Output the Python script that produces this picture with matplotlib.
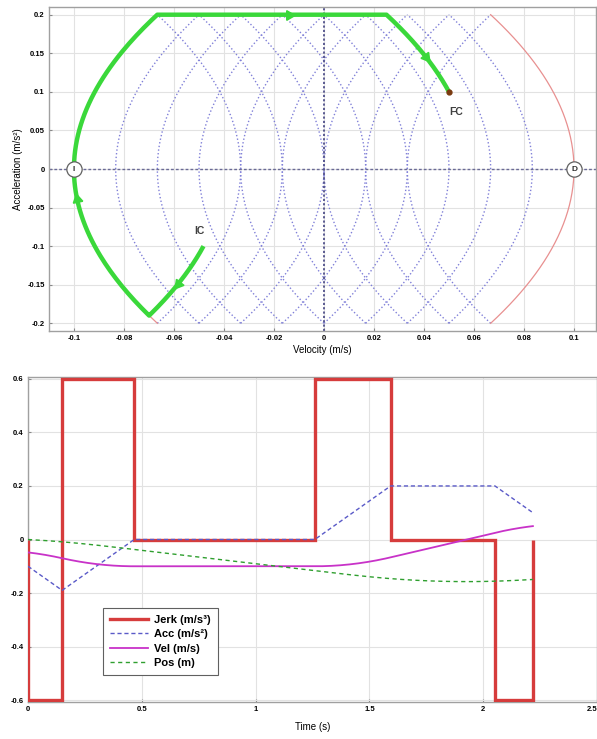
import numpy as np
import matplotlib
matplotlib.use("Agg")
import matplotlib.pyplot as plt
from matplotlib.ticker import FuncFormatter

plt.rcParams['font.family'] = ['Liberation Sans', 'DejaVu Sans']
plt.rcParams['font.weight'] = 'bold'

# Jerk profile (bang-bang), switching instants and initial state
jerk_levels = [-0.6, 0.6, 0.0, 0.6, 0.0, -0.6]
switch_times = [0.0, 0.15, 0.4667, 1.26, 1.5933, 2.0517, 2.2183]
acc0, vel0, pos0 = -0.1, -0.0482, 0.0

# Phase-plane families: vertex velocities of the parabolic arcs (a = 0)
j_max = 0.6
a_max = 0.2
right_arc_vertices = [-2/60, -1/60, 0.0, 1/60, 2/60, 3/60, 4/60, 5/60]
left_arc_vertices = [-5/60, -4/60, -3/60, -2/60, -1/60, 0.0, 1/60, 2/60]
bound_vertices = [-0.1, 0.1]

# Named points of the phase plane
ic_point = (-0.05, -0.1)
fc_point = (0.05, 0.1)
start_point = (-0.1, 0.0)
stop_point = (0.1, 0.0)

# Instants where direction arrows sit on the trajectory
arrow_times = [0.08, 0.40, 1.85, 2.14]


def integrate_profile(levels, edges, a0, v0, p0, n=60):
    """ Integra il jerk a tratti costante: ritorna t, acc, vel, pos """
    t_all, a_all, v_all, p_all = [], [], [], []
    a, v, p = a0, v0, p0
    for j, t_start, t_end in zip(levels, edges[:-1], edges[1:]):
        dt = np.linspace(0, t_end - t_start, n)
        t_all.append(t_start + dt)
        a_all.append(a + j * dt)
        v_all.append(v + a * dt + j * dt**2 / 2)
        p_all.append(p + v * dt + a * dt**2 / 2 + j * dt**3 / 6)
        a, v, p = a_all[-1][-1], v_all[-1][-1], p_all[-1][-1]
    return (np.concatenate(t_all), np.concatenate(a_all),
            np.concatenate(v_all), np.concatenate(p_all))


def tick_fmt(digits):
    # niente "-0" sulle etichette
    return FuncFormatter(lambda v, _: f"{round(v, digits) + 0.0:g}")


t, acc, vel, pos = integrate_profile(jerk_levels, switch_times, acc0, vel0, pos0)

fig = plt.figure(figsize=(5.97, 7.39), dpi=100)

# ---------------- Piano delle fasi ----------------
ax1 = fig.add_axes([49 / 597, 1 - 331 / 739, 547 / 597, 324 / 739])
ax1.set_xlim(-0.11, 0.1088)
ax1.set_ylim(-0.21, 0.21)

a_arc = np.linspace(-a_max, a_max, 200)
for c in right_arc_vertices:
    ax1.plot(c - a_arc**2 / (2 * j_max), a_arc, ':', color='#8080d8', lw=1.0)
for c in left_arc_vertices:
    ax1.plot(c + a_arc**2 / (2 * j_max), a_arc, ':', color='#8080d8', lw=1.0)
ax1.plot(bound_vertices[0] + a_arc**2 / (2 * j_max), a_arc, '-', color='#e89090', lw=0.9)
ax1.plot(bound_vertices[1] - a_arc**2 / (2 * j_max), a_arc, '-', color='#e89090', lw=0.9)

ax1.axhline(0, color='#6a6a96', lw=1.0, ls=(0, (2, 1.5)), zorder=2)
ax1.axvline(0, color='#50508a', lw=1.3, ls=(0, (1.2, 1.2)), zorder=2)

# Traiettoria (vel, acc)
green = '#3ad83a'
ax1.plot(vel, acc, '-', color=green, lw=3.2, solid_capstyle='butt', zorder=4)
for ta in arrow_times:
    k = np.searchsorted(t, ta)
    p0_pix = ax1.transData.transform((vel[k - 2], acc[k - 2]))
    p1_pix = ax1.transData.transform((vel[k + 2], acc[k + 2]))
    ang = np.degrees(np.arctan2(p1_pix[1] - p0_pix[1], p1_pix[0] - p0_pix[0]))
    ax1.plot(vel[k], acc[k], marker=(3, 0, ang - 90), ms=8, color=green,
             mec=green, zorder=5)

ax1.plot(*fc_point, 'o', color='#7a3a10', ms=3.5, zorder=6)
ax1.text(ic_point[0], ic_point[1] + 0.013, 'IC', ha='center', va='bottom',
         fontsize=7.5, color='#404040')
ax1.text(fc_point[0] + 0.003, fc_point[1] - 0.02, 'FC', ha='center', va='top',
         fontsize=7.5, color='#404040')
for (x, y), name in zip([start_point, stop_point], ['I', 'D']):
    ax1.plot(x, y, 'o', ms=11, mfc='white', mec='#606060', mew=0.9, zorder=6)
    ax1.text(x, y, name, ha='center', va='center', fontsize=6, color='#303030', zorder=7)

ax1.set_xticks(np.arange(-0.1, 0.1001, 0.02))
ax1.set_yticks(np.arange(-0.2, 0.2001, 0.05))
ax1.xaxis.set_major_formatter(tick_fmt(2))
ax1.yaxis.set_major_formatter(tick_fmt(2))
ax1.set_xlabel('Velocity (m/s)', fontsize=7, labelpad=2)
ax1.set_ylabel('Acceleration (m/s²)', fontsize=7, labelpad=3)

# ---------------- Profili temporali ----------------
ax2 = fig.add_axes([28 / 597, 1 - 702 / 739, 569 / 597, 325 / 739])
ax2.set_xlim(0, 2.49)
ax2.set_ylim(-0.607, 0.607)

ax2.stairs(jerk_levels, switch_times, baseline=0, color='#d63c3c', lw=2.4,
           label='Jerk (m/s³)', zorder=3)
ax2.plot(t, acc, color='#5a5ac8', lw=1.0, ls=(0, (3, 2)), label='Acc (m/s²)', zorder=4)
ax2.plot(t, vel, color='#c832c8', lw=1.3, label='Vel (m/s)', zorder=4)
ax2.plot(t, pos, color='#2f9f2f', lw=1.0, ls=(0, (3, 2.5)), label='Pos (m)', zorder=4)

ax2.set_xticks([0, 0.5, 1, 1.5, 2, 2.5])
ax2.set_yticks(np.arange(-0.6, 0.601, 0.2))
ax2.xaxis.set_major_formatter(tick_fmt(1))
ax2.yaxis.set_major_formatter(tick_fmt(1))
ax2.set_xlabel('Time (s)', fontsize=7, labelpad=6)

leg = ax2.legend(loc='upper left', bbox_to_anchor=(0.132, 0.289), fontsize=8,
                 fancybox=False, framealpha=1, edgecolor='#606060',
                 handlelength=3.4, handletextpad=0.6, borderpad=0.6,
                 labelspacing=0.4, borderaxespad=0)
leg.get_frame().set_linewidth(0.8)

# Stile comune degli assi
for ax in (ax1, ax2):
    ax.grid(True, color='#e2e2e2', lw=0.8)
    ax.set_axisbelow(True)
    ax.tick_params(labelsize=5.5, length=2, direction='in', color='#888888',
                   top=False, right=False, pad=3)
    for side in ax.spines.values():
        side.set_color('#a0a0a0')
        side.set_linewidth(1.0)

# l'ultima etichetta dei tempi sta sul bordo della figura
ax2.get_xticklabels()[-1].set_horizontalalignment('right')

fig.savefig('out.png', dpi=100)
